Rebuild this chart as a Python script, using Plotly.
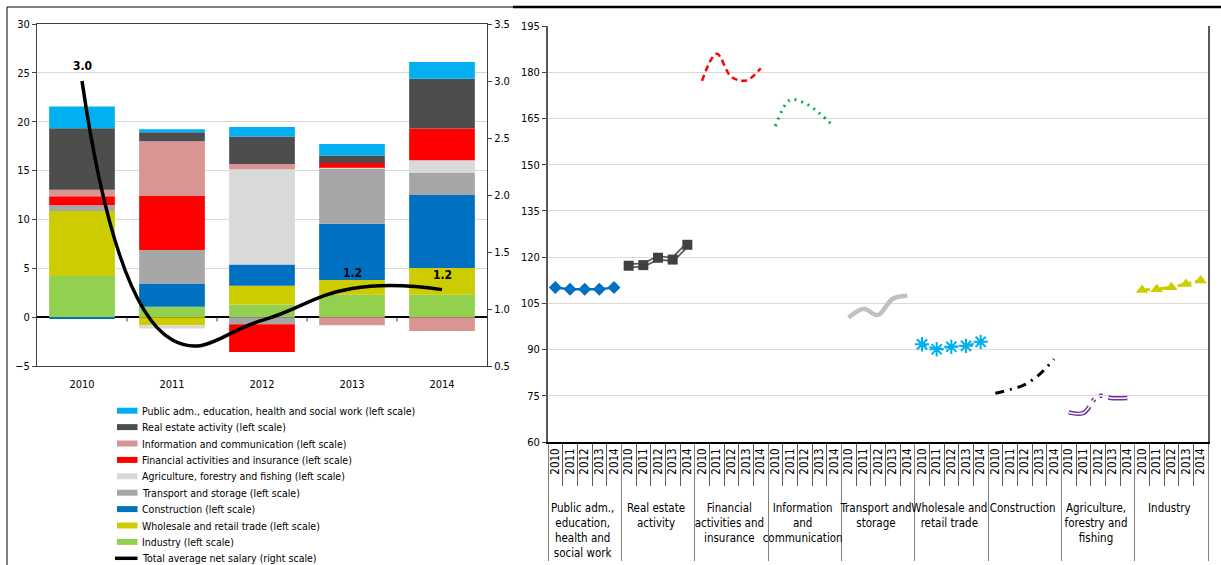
import plotly.graph_objects as go

FONT = "DejaVu Sans Condensed, DejaVu Sans, sans-serif"
FS = 10.5

# ---------------- Left chart data ----------------
years = ["2010", "2011", "2012", "2013", "2014"]
industry = [4.2, 1.06, 1.3, 2.29, 2.29]
wholesale = [6.66, -0.82, 1.91, 1.5, 2.73]
construction = [-0.2, 2.39, 2.19, 5.77, 7.48]
transport = [0.58, 3.42, -0.72, 5.64, 2.29]
agriculture = [0.0, -0.34, 9.73, 0.1, 1.26]
financial = [0.92, 5.53, -2.84, 0.48, 3.25]
information = [0.69, 5.6, 0.55, -0.82, -1.43]
real_estate = [6.29, 0.92, 2.8, 0.75, 5.09]
public_adm = [2.22, 0.3, 0.99, 1.2, 1.71]
total_salary = [3.0, 0.73, 0.9, 1.18, 1.17]
salary_labels = ["3.0", "", "", "1.2", "1.2"]

bar_series = [
    ("Industry (left scale)", industry, "#92D050"),
    ("Wholesale and retail trade (left scale)", wholesale, "#CCCC00"),
    ("Construction (left scale)", construction, "#0070C0"),
    ("Transport and storage (left scale)", transport, "#A6A6A6"),
    ("Agriculture, forestry and fishing (left scale)", agriculture, "#D9D9D9"),
    ("Financial activities and insurance (left scale)", financial, "#FF0000"),
    ("Information and communication (left scale)", information, "#D99594"),
    ("Real estate activity (left scale)", real_estate, "#4D4D4D"),
    ("Public adm., education, health and social work (left scale)", public_adm, "#00B0F0"),
]
line_name = "Total average net salary (right scale)"

# ---------------- Right chart data ----------------
sectors = [
    "<br>Public adm.,<br>education,<br>health and<br>social work",
    "<br>Real estate<br>activity",
    "<br>Financial<br>activities and<br>insurance",
    "<br>Information<br>and<br>communication",
    "<br>Transport and<br>storage",
    "<br>Wholesale and<br>retail trade",
    "<br>Construction",
    "<br>Agriculture,<br>forestry and<br>fishing",
    "<br>Industry",
]
idx_public = [110.1, 109.6, 109.6, 109.6, 110.1]
idx_real_estate = [117.2, 117.4, 119.8, 119.2, 124.0]
idx_financial = [177.2, 186.0, 178.5, 177.3, 181.3]
idx_information = [162.5, 171.0, 170.0, 166.7, 162.3]
idx_transport = [100.4, 103.2, 101.2, 106.5, 107.5]
idx_wholesale = [91.7, 90.1, 90.9, 91.2, 92.5]
idx_construction = [75.8, 77.0, 78.6, 81.9, 86.9]
idx_agriculture = [69.6, 69.4, 74.9, 74.2, 74.3]
idx_industry = [109.3, 109.6, 110.2, 111.3, 112.4]

W, H = 1221, 565


def px_x(p):
    return p / W


def px_y(p):
    return 1 - p / H


fig = go.Figure()

# stacked bars (left scale)
for name, vals, col in bar_series:
    fig.add_trace(go.Bar(
        x=years, y=vals, name=name, marker=dict(color=col, line=dict(width=0)),
        xaxis="x", yaxis="y", showlegend=False,
    ))

fig.add_trace(go.Scatter(
    x=years, y=total_salary, name=line_name,
    mode="lines", line=dict(color="black", width=3.5, shape="spline", smoothing=1.3),
    xaxis="x", yaxis="y2", showlegend=False,
))

annotations = []
for i, (v, lab) in enumerate(zip(total_salary, salary_labels)):
    if lab:
        annotations.append(dict(x=i, y=v, xref="x", yref="y2", text="<b>%s</b>" % lab,
                                showarrow=False, yshift=15,
                                font=dict(family=FONT, size=12, color="black")))


def mc(k):
    return [[sectors[k]] * 5, years]


def add_line(k, vals, name, **kw):
    fig.add_trace(go.Scatter(x=mc(k), y=vals, name=name, xaxis="x2", yaxis="y3",
                             showlegend=False, **kw))


add_line(0, idx_public, "Public adm.", mode="lines+markers", line=dict(color="#0070C0", width=2.5),
         marker=dict(symbol="diamond", size=10, color="#0070C0"))
add_line(1, idx_real_estate, "Real estate", mode="lines", line=dict(color="#595959", width=5))
add_line(1, idx_real_estate, "Real estate", mode="lines+markers", line=dict(color="white", width=1.5),
         marker=dict(symbol="square", size=10, color="#404040"))
add_line(2, idx_financial, "Financial", mode="lines",
         line=dict(color="#FF0000", width=2.5, dash="6px,4px", shape="spline"))
add_line(3, idx_information, "Information", mode="lines",
         line=dict(color="#00B050", width=3, dash="2px,5px", shape="spline"))
add_line(4, idx_transport, "Transport", mode="lines",
         line=dict(color="#C0C0C0", width=4.5, shape="spline"))
add_line(5, idx_wholesale, "Wholesale", mode="lines+markers",
         line=dict(color="#00B0F0", width=2, dash="5px,3px"),
         marker=dict(symbol="asterisk-open", size=12, line=dict(color="#00B0F0", width=2)))
add_line(6, idx_construction, "Construction", mode="lines",
         line=dict(color="black", width=3, dash="9px,6px,2px,6px", shape="spline"))
add_line(7, idx_agriculture, "Agriculture", mode="lines",
         line=dict(color="#7030A0", width=4.5, dash="24px,6px,3px,6px,3px,6px", shape="spline"))
add_line(7, idx_agriculture, "Agriculture", mode="lines",
         line=dict(color="white", width=1.5, dash="24px,6px,3px,6px,3px,6px", shape="spline"))
add_line(8, idx_industry, "Industry", mode="lines+markers",
         line=dict(color="#CCCC00", width=3, dash="8px,4px,2px,4px"),
         marker=dict(symbol="triangle-up", size=11, color="#CCCC00"))

shapes = [
    dict(type="line", xref="paper", yref="paper", x0=px_x(7), x1=px_x(7), y0=0, y1=px_y(7),
         line=dict(color="black", width=1)),
    dict(type="line", xref="paper", yref="paper", x0=px_x(7), x1=px_x(513), y0=px_y(7), y1=px_y(7),
         line=dict(color="black", width=1)),
    dict(type="line", xref="paper", yref="paper", x0=px_x(513), x1=1, y0=px_y(7), y1=px_y(7),
         line=dict(color="black", width=2.5)),
]

# small category separators on the zero line (left chart)
for i in range(len(years) - 1):
    shapes.append(dict(type="line", xref="x", yref="y", x0=i + 0.5, x1=i + 0.5, y0=0, y1=-0.45,
                       line=dict(color="#404040", width=1)))

# manual legend (left chart)
legend_entries = [(n, c) for n, _, c in reversed(bar_series)]
row0, rowgap = 410.7, 16.4
for i, (name, col) in enumerate(legend_entries):
    yc = row0 + i * rowgap
    shapes.append(dict(type="rect", xref="paper", yref="paper",
                       x0=px_x(117), x1=px_x(137.5), y0=px_y(yc + 3), y1=px_y(yc - 3),
                       fillcolor=col, line=dict(width=0)))
    annotations.append(dict(x=px_x(139.5), y=px_y(yc), xref="paper", yref="paper", text=name,
                            xanchor="left", yanchor="middle", showarrow=False,
                            font=dict(family=FONT, size=FS, color="black")))
yc = row0 + len(legend_entries) * rowgap
shapes.append(dict(type="line", xref="paper", yref="paper", x0=px_x(115), x1=px_x(137.5),
                   y0=px_y(yc), y1=px_y(yc), line=dict(color="black", width=3.5)))
annotations.append(dict(x=px_x(139.5), y=px_y(yc), xref="paper", yref="paper", text=line_name,
                        xanchor="left", yanchor="middle", showarrow=False,
                        font=dict(family=FONT, size=FS, color="black")))

tickfont = dict(family=FONT, size=11, color="black")
n_cat = len(sectors) * len(years)

fig.update_layout(
    width=W, height=H,
    margin=dict(l=0, r=0, t=0, b=0, autoexpand=False),
    paper_bgcolor="white", plot_bgcolor="white",
    barmode="relative", bargap=0.27,
    font=dict(family=FONT, size=FS, color="black"),
    showlegend=False,
    xaxis=dict(domain=[px_x(37), px_x(487)], anchor="y", type="category", range=[-0.5, 4.5],
               showline=True, linecolor="#404040", linewidth=1, mirror=True, automargin=False,
               ticks="outside", ticklen=8, tickcolor="rgba(0,0,0,0)", tickfont=tickfont,
               showgrid=False),
    yaxis=dict(domain=[px_y(366), px_y(24)], anchor="x", range=[-5, 30], dtick=5,
               showline=True, linecolor="#404040", linewidth=1, ticks="outside", ticklen=4,
               tickcolor="#404040", gridcolor="#D9D9D9", zeroline=True, zerolinecolor="black",
               zerolinewidth=1.5, tickfont=tickfont, automargin=False),
    yaxis2=dict(overlaying="y", side="right", anchor="x", range=[0.5, 3.5], dtick=0.5,
                tickformat=".1f", showline=True, linecolor="#404040", linewidth=1,
                ticks="outside", ticklen=4, tickcolor="#404040", showgrid=False, zeroline=False,
                tickfont=tickfont, automargin=False),
    xaxis2=dict(domain=[px_x(548), px_x(1208)], anchor="y3", type="multicategory",
                range=[-0.5, n_cat - 0.5],
                showline=True, linecolor="black", linewidth=1.5, mirror=False,
                ticks="outside", tickson="boundaries", ticklen=42, tickcolor="#595959",
                tickmode="linear", tick0=0, dtick=1,
                tickangle=-90, showdividers=True, dividercolor="#808080", dividerwidth=1,
                tickfont=dict(family=FONT, size=11.5, color="black"), showgrid=False,
                automargin=False),
    yaxis3=dict(domain=[px_y(442), px_y(26)], anchor="x2", range=[60, 195], dtick=15,
                showline=True, linecolor="#595959", linewidth=2, mirror=True,
                ticks="outside", ticklen=4, tickcolor="#404040", gridcolor="#D9D9D9",
                zeroline=False, tickfont=tickfont, automargin=False),
    annotations=annotations,
    shapes=shapes,
)

fig.write_html("out.html", config={"displayModeBar": False},
               post_script="document.body.style.margin='0px';")
